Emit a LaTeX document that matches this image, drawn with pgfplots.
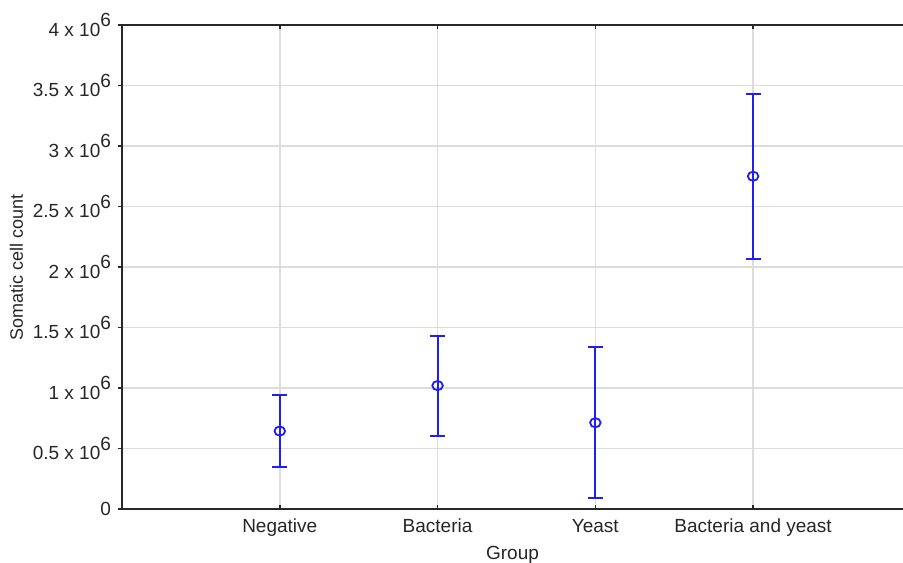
\documentclass[border=0pt]{standalone}
\usepackage{pgfplots}
\pgfplotsset{compat=1.18}
\usepackage{fontspec}
\setmainfont{Liberation Sans}
\definecolor{errblue}{RGB}{30,30,245}
\definecolor{gridgray}{RGB}{220,220,220}
\definecolor{axgray}{RGB}{40,40,40}
\newcommand{\sixx}[1]{#1 x 10\raisebox{0.95ex}{6}}
\begin{document}
\begin{tikzpicture}
\begin{axis}[
  name=ax,
  scale only axis,
  width=390.5pt, height=242pt,
  xmin=0, xmax=4.95,
  ymin=0, ymax=4000000,
  axis x line=box,
  axis y line*=left,
  axis line style={axgray, line width=0.9pt},
  xtick={1,2,3,4},
  xticklabels={Negative, Bacteria, Yeast, Bacteria and yeast},
  ytick={0,500000,1000000,1500000,2000000,2500000,3000000,3500000,4000000},
  yticklabels={0,\sixx{0.5},\sixx{1},\sixx{1.5},\sixx{2},\sixx{2.5},\sixx{3},\sixx{3.5},\sixx{4}},
  scaled y ticks=false,
  grid=major,
  major grid style={gridgray, line width=0.8pt},
  xtick align=inside,
  ytick align=outside,
  major tick length=2pt,
  tick style={axgray, line width=0.8pt},
  tick label style={font=\fontsize{9.5}{11}\selectfont, text=black!85},
  xticklabel style={yshift=-1.5pt},
  yticklabel style={xshift=0pt},
  xlabel={Group},
  ylabel={Somatic cell count},
  label style={font=\fontsize{9.5}{11}\selectfont, text=black!85},
  ylabel style={font=\fontsize{9}{11}\selectfont},
  xlabel style={yshift=2pt},
  ylabel style={yshift=-2pt},
  clip=false,
]
\addplot[
  only marks, errblue,
  mark=o, mark size=2.3pt, mark options={line width=0.9pt, xscale=1.15},
  error bars/.cd,
    y dir=both, y explicit,
    error bar style={line width=1pt, errblue},
    error mark options={rotate=90, mark size=3.8pt, line width=1pt, errblue},
] table[x=x, y=y, y error plus=ep, y error minus=em] {
x y ep em
1 644000 296000 299000
2 1020000 410000 415000
3 713000 625000 621000
4 2750000 680000 680000
};
\end{axis}
\pgfresetboundingbox
\path ([xshift=-61pt,yshift=-27pt]ax.south west) rectangle ([yshift=12.5pt]ax.north east);
\end{tikzpicture}
\end{document}
